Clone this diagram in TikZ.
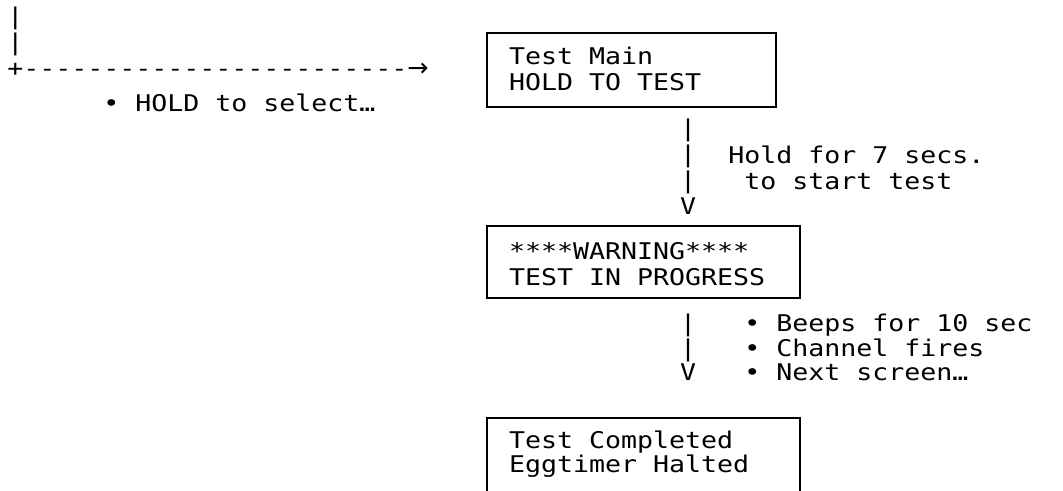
\documentclass[tikz,border=0pt]{standalone}
\usepackage{fontspec}
\setmonofont[FakeStretch=1.156]{DejaVu Sans Mono}
\newfontfamily\arrowfont{DejaVu Sans}
\usetikzlibrary{positioning}

\begin{document}
\begin{tikzpicture}[x=0.75pt, y=-0.75pt,
  ascii/.style = {font=\ttfamily\fontsize{17.25pt}{19.5pt}\selectfont, inner sep=0pt, align=left},
  tight/.style = {font=\ttfamily\fontsize{17.25pt}{18pt}\selectfont},
  screen/.style = {ascii, draw, line width=1.5pt, outer sep=0pt, anchor=base west, inner xsep=16.5pt}]
\useasboundingbox (0,0) rectangle (1063,491);

% screens (anchored on the last line)
\node[screen, text height=43.5pt, text depth=12pt] (main) at (487,91) {\makebox[183.75pt][l]{Test Main}\\HOLD TO TEST};
\node[screen, text height=45pt, text depth=9pt] (warn) at (487,286) {\makebox[201.75pt][l]{****WARNING****}\\TEST IN PROGRESS};
\node[screen, tight, text height=40.5pt, text depth=14.9pt] (done) at (487,472) {\makebox[201.75pt][l]{Test Completed}\\Eggtimer Halted};

% entry
\node[ascii, anchor=base west] (entry) at (7,77) {|\\|\\+------------------------{\arrowfont\fontsize{19pt}{19.5pt}\selectfont →}};
\node[ascii, anchor=base west] (select) at (103,112) {• HOLD to select…};

% main -> warn
\node[ascii, anchor=base] (hold) at (688,215) {|\\|\\|\\V};
\node[ascii, anchor=base west] (holdtxt) at (728,190) {Hold for 7 secs.\\\ to start test};

% warn -> done
\node[ascii, tight, anchor=base] (fire) at (688,380) {|\\|\\V};
\node[ascii, tight, anchor=base west] (firetxt) at (744,380) {• Beeps for 10 sec\\• Channel fires\\• Next screen…};

\end{tikzpicture}
\end{document}
